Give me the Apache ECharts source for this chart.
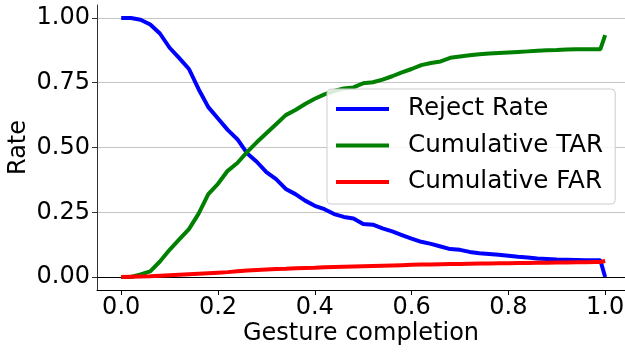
<!DOCTYPE html>
<html>
<head>
<meta charset="utf-8">
<script src="https://cdn.jsdelivr.net/npm/echarts@6/dist/echarts.min.js"></script>
<style>
  html, body { margin: 0; padding: 0; background: #fff; }
  #main { width: 625px; height: 352px; }
</style>
</head>
<body>
<div id="main"></div>
<script>
// gesture completion fraction
var completion = [0, 0.02, 0.04, 0.06, 0.08, 0.10, 0.12, 0.14, 0.16, 0.18,
    0.20, 0.22, 0.24, 0.26, 0.28, 0.30, 0.32, 0.34, 0.36, 0.38,
    0.40, 0.42, 0.44, 0.46, 0.48, 0.50, 0.52, 0.54, 0.56, 0.58,
    0.60, 0.62, 0.64, 0.66, 0.68, 0.70, 0.72, 0.74, 0.76, 0.78,
    0.80, 0.82, 0.84, 0.86, 0.88, 0.90, 0.92, 0.94, 0.96, 0.98, 0.99, 1.00];
var rejectRate = [1.00, 1.00, 0.993, 0.975, 0.94, 0.885, 0.845, 0.803, 0.725, 0.656,
    0.612, 0.568, 0.532, 0.478, 0.445, 0.405, 0.378, 0.340, 0.320, 0.295,
    0.275, 0.262, 0.243, 0.232, 0.226, 0.205, 0.202, 0.188, 0.176, 0.162,
    0.148, 0.136, 0.128, 0.118, 0.108, 0.105, 0.097, 0.092, 0.089, 0.086,
    0.082, 0.078, 0.075, 0.072, 0.070, 0.068, 0.067, 0.066, 0.065, 0.065, 0.065, 0.0];
var cumTAR = [0, 0, 0.01, 0.022, 0.06, 0.105, 0.145, 0.185, 0.245, 0.32,
    0.36, 0.41, 0.44, 0.482, 0.52, 0.555, 0.59, 0.625, 0.645, 0.668,
    0.688, 0.705, 0.718, 0.728, 0.732, 0.748, 0.752, 0.762, 0.775, 0.79,
    0.803, 0.818, 0.826, 0.832, 0.846, 0.851, 0.856, 0.86, 0.863, 0.865,
    0.867, 0.869, 0.871, 0.873, 0.875, 0.876, 0.878, 0.879, 0.879, 0.879, 0.879, 0.934];
var cumFAR = [0, 0.001, 0.002, 0.003, 0.005, 0.007, 0.009, 0.011, 0.013, 0.015,
    0.017, 0.019, 0.022, 0.025, 0.027, 0.029, 0.031, 0.032, 0.034, 0.035,
    0.036, 0.038, 0.039, 0.040, 0.041, 0.042, 0.043, 0.044, 0.045, 0.046,
    0.047, 0.048, 0.048, 0.049, 0.050, 0.050, 0.051, 0.052, 0.052, 0.053,
    0.053, 0.054, 0.054, 0.055, 0.055, 0.056, 0.056, 0.057, 0.057, 0.058, 0.058, 0.062];
var xTicks = [0, 0.2, 0.4, 0.6, 0.8, 1.0];
var yTicks = [0, 0.25, 0.5, 0.75, 1.0];

function pairs(ys) {
    return completion.map(function (x, i) { return [x, ys[i]]; });
}

var font = 'DejaVu Sans';
var fs = 24;
var chartDom = document.getElementById('main');
var myChart = echarts.init(chartDom, null, { renderer: 'canvas' });
var option;

option = {
    animation: false,
    textStyle: { fontFamily: font },
    grid: { left: 97, right: 0, top: 5, bottom: 62, outerBoundsMode: 'none' },
    legend: {
        orient: 'vertical',
        left: 327,
        top: 89,
        // line sample plus blank room before the text
        icon: 'path://M0,0L53,0L53,4L0,4Z M67,0L67,4',
        itemWidth: 67,
        itemHeight: 4,
        itemGap: 8.5,
        padding: [6, 12, 8, 9],
        backgroundColor: 'rgba(255,255,255,0.85)',
        borderColor: '#cccccc',
        borderWidth: 1,
        borderRadius: 4,
        textStyle: { fontFamily: font, fontSize: 24.6, color: '#000', lineHeight: 28 },
        data: ['Reject Rate', 'Cumulative TAR', 'Cumulative FAR']
    },
    xAxis: [{
        type: 'value',
        min: -0.05,
        max: 1.041,
        name: 'Gesture completion',
        nameLocation: 'middle',
        nameGap: 32,
        nameMoveOverlap: false,
        nameTextStyle: { fontFamily: font, fontSize: fs, color: '#000' },
        axisLine: { show: true, onZero: false, lineStyle: { color: '#000', width: 1 } },
        axisTick: { show: true, length: 5, customValues: xTicks, lineStyle: { color: '#000' } },
        axisLabel: {
            customValues: xTicks,
            fontFamily: font, fontSize: fs, color: '#000', margin: 6,
            formatter: function (v) { return v.toFixed(1); }
        },
        splitLine: { show: false }
    }, {
        type: 'value',
        position: 'top',
        min: -0.05,
        max: 1.041,
        axisLine: { show: true, lineStyle: { color: '#000', width: 1 } },
        axisTick: { show: false },
        axisLabel: { show: false },
        splitLine: { show: false }
    }],
    yAxis: {
        type: 'value',
        min: -0.05,
        max: 1.05,
        name: 'Rate',
        nameLocation: 'middle',
        nameGap: 66,
        nameMoveOverlap: false,
        nameTextStyle: { fontFamily: font, fontSize: fs, color: '#000' },
        axisLine: { show: true, onZero: false, lineStyle: { color: '#333', width: 1 } },
        axisTick: { show: true, length: 5, customValues: yTicks, lineStyle: { color: '#333' } },
        axisLabel: {
            customValues: yTicks,
            fontFamily: font, fontSize: fs, color: '#000', margin: 7,
            formatter: function (v) { return v.toFixed(2); }
        },
        splitLine: { show: true, lineStyle: { color: '#c4c4c4', width: 1 } }
    },
    series: [
        {
            name: 'Reject Rate',
            type: 'line',
            symbol: 'none',
            itemStyle: { color: '#0000ff' },
            lineStyle: { color: '#0000ff', width: 4 },
            data: pairs(rejectRate)
        },
        {
            name: 'Cumulative TAR',
            type: 'line',
            symbol: 'none',
            itemStyle: { color: '#008000' },
            lineStyle: { color: '#008000', width: 4 },
            data: pairs(cumTAR)
        },
        {
            name: 'Cumulative FAR',
            type: 'line',
            symbol: 'none',
            itemStyle: { color: '#ff0000' },
            lineStyle: { color: '#ff0000', width: 4 },
            data: pairs(cumFAR)
        }
    ]
};
option && myChart.setOption(option);
</script>
</body>
</html>
